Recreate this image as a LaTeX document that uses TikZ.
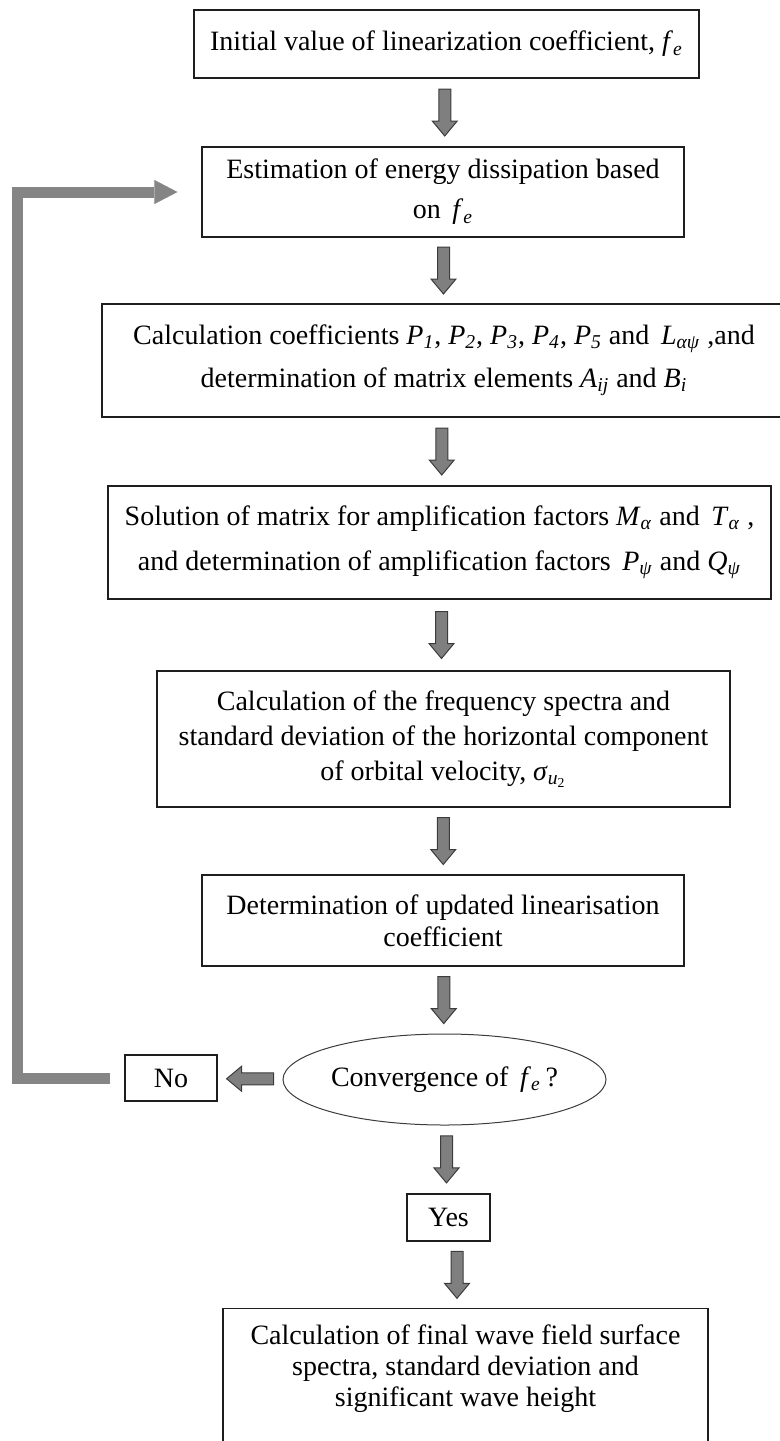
\documentclass[tikz,border=0pt]{standalone}
\usepackage{fontspec}
\setmainfont{Liberation Serif}
\usetikzlibrary{arrows.meta,calc,shapes.geometric}
\definecolor{arrowGray}{HTML}{7F7F7F}
\definecolor{arrowEdge}{HTML}{3C3C3C}
\definecolor{loopGray}{HTML}{858585}
\definecolor{boxEdge}{HTML}{1E1E1E}
\newcommand{\isub}[2]{\textit{#1}\textsubscript{\textit{#2}}}

\begin{document}
\begin{tikzpicture}[x=0.5pt,y=-0.5pt,
  box/.style={draw=boxEdge,line width=0.65pt,inner sep=0pt,align=center,
    font=\fontsize{14pt}{17.5pt}\selectfont},
  downarrow/.pic={\filldraw[fill=arrowGray,draw=arrowEdge,line width=0.5pt]
    (-6,-23.5)--(6,-23.5)--(6,8.5)--(12.5,8.5)--(0,23.5)--(-12.5,8.5)--(-6,8.5)--cycle;}]
\useasboundingbox (0,0) rectangle (780,1441);
\clip (0,0) rectangle (780,1441);
\node[box,minimum width=252.5pt,minimum height=34pt] (init) at (446.5,44) {Initial value of linearization coefficient, \isub{f}{e}};
\node[box,minimum width=241pt,minimum height=45pt] (estim) at (443,192) {Estimation of energy dissipation based\\[2.5pt] on \,\isub{f}{e}};
\node[box,minimum width=342pt,minimum height=56.5pt] (coef) at (444,360.5) {Calculation coefficients \isub{P}{1}, \isub{P}{2}, \isub{P}{3}, \isub{P}{4}, \isub{P}{5} and \,\isub{L}{αψ} ,and\\[4pt] determination of matrix elements \isub{A}{ij} and \isub{B}{i}};
\node[box,minimum width=331.5pt,minimum height=56.5pt] (solve) at (439.5,542.5) {Solution of matrix for amplification factors \isub{M}{α} and \,\isub{T}{α} ,\\[5pt] and determination of amplification factors \,\isub{P}{ψ} and \isub{Q}{ψ}};
\node[box,minimum width=286.5pt,minimum height=68pt] (spectra) at (443.5,739) {Calculation of the frequency spectra and\\ standard deviation of the horizontal component\\ of orbital velocity, \textit{σ}\textsubscript{\textit{u}\textsubscript{2}}};
\node[box,minimum width=241pt,minimum height=45.5pt] (update) at (443,920.5) {Determination of updated linearisation\\[-1.5pt] coefficient};
\node[box,ellipse,draw=arrowEdge,line width=0.5pt,minimum width=161.5pt,minimum height=45.5pt] (conv) at (444.5,1079.5) {Convergence of \,\isub{f}{e}\,?};
\node[box,minimum width=46pt,minimum height=23pt] (no) at (171,1078) {No};
\node[box,minimum width=41.5pt,minimum height=23.5pt] (yes) at (448.5,1217.5) {Yes};
\node[box,anchor=north,minimum width=242.5pt,inner ysep=8pt,text depth=60pt] (final) at (465.5,1308) {Calculation of final wave field surface\\[-2pt] spectra, standard deviation and\\[-2pt] significant wave height};
% block arrows
\path (init.south) -- (estim.north) pic[midway] {downarrow};
\path (estim.south) -- (coef.north) pic[midway] {downarrow};
\path (coef.south) -- (solve.north) pic[midway] {downarrow};
\path (solve.south) -- (spectra.north) pic[midway] {downarrow};
\path (spectra.south) -- (update.north) pic[midway] {downarrow};
\path (update.south) -- (conv.north) pic[midway] {downarrow};
\path (conv.south) -- (yes.north) pic[midway] {downarrow};
\path (yes.south) -- (final.north) pic[midway] {downarrow};
\path (conv.west) -- (no.east) pic[midway,rotate=-90] {downarrow};
% loop back
\draw[loopGray,line width=5.5pt,-{Triangle[length=11.5pt,width=12pt,line width=0.01pt]}]
  ([shift={(-14,0)}]no.west) -- ++(-92.5,0) |- ([shift={(-24,0)}]estim.west);
\end{tikzpicture}
\end{document}
